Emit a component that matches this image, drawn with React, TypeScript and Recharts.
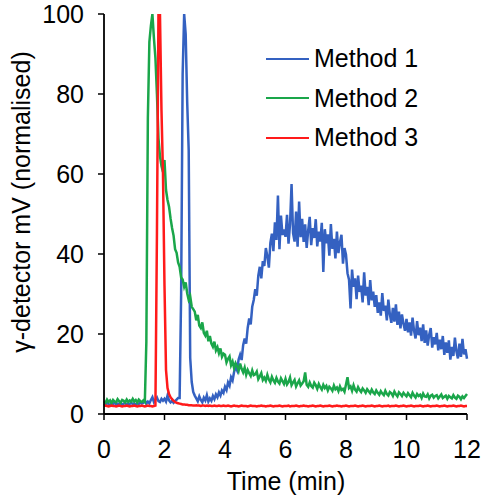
import { LineChart, Line, XAxis, YAxis, Legend, Label } from "recharts";

// detector traces, sampled every 0.05 min from 0 to 12 min (one row = one minute)
const STEP_MIN = 0.05;

const method1 = [
  2.6, 2.4, 2.8, 2.5, 2.3, 2.7, 2.5, 2.9, 2.4, 2.6, 2.5, 2.8, 2.3, 2.6, 2.7, 2.4, 2.6, 2.5, 2.8, 2.5,
  2.6, 2.4, 2.7, 2.5, 2.9, 2.6, 2.8, 3.4, 2.6, 3.1, 2.7, 3.5, 4.2, 3.0, 3.6, 4.1, 3.2, 3.0, 3.8, 3.3,
  3.8, 3.1, 4.6, 3.4, 2.9, 3.3, 2.8, 3.2, 3.6, 4.0, 4.0, 30, 85, 100, 95, 78, 66, 14, 8, 5.5,
  4.6, 3.9, 3.2, 4.4, 3.5, 2.9, 4.1, 3.4, 4.7, 3.1, 3.9, 3.3, 4.5, 3.7, 4.9, 4.2, 5.4, 4.6, 5.9, 5.3,
  6.8, 6.0, 7.9, 7.1, 9.2, 8.4, 10.5, 11.8, 10.9, 13.6, 14.8, 13.5, 17.2, 18.9, 17.6, 21.5, 23.9, 22.4, 26.8, 28.5,
  31.2, 29.6, 34.5, 36.8, 33.9, 38.2, 37.0, 41.5, 39.4, 36.6, 42.8, 45.1, 40.7, 47.9, 43.5, 54.6, 41.2, 49.6, 44.8, 46.1,
  44.3, 49.8, 42.6, 47.5, 57.5, 45.2, 43.1, 50.6, 41.8, 53.1, 44.2, 48.8, 43.0, 47.4, 41.5, 45.9, 49.3, 42.2, 46.5, 44.0,
  48.7, 41.9, 45.6, 43.1, 47.8, 35.5, 46.2, 42.7, 44.9, 39.6, 47.5, 41.3, 43.8, 38.9, 45.6, 40.2, 42.9, 44.8, 37.6, 41.5,
  39.8, 35.2, 33.6, 26.4, 36.1, 31.8, 33.9, 28.7, 34.6, 30.5, 32.1, 27.9, 35.4, 29.6, 31.8, 27.2, 33.5, 28.4, 30.6, 26.8,
  29.7, 25.3, 27.9, 24.6, 30.2, 25.8, 27.1, 23.4, 28.6, 24.9, 22.8, 26.5, 23.1, 27.4, 22.3, 25.6, 21.4, 24.9, 22.6, 20.8,
  23.8, 20.4, 22.9, 19.6, 24.1, 20.8, 18.9, 23.2, 19.7, 21.6, 18.2, 22.4, 17.8, 20.9, 17.1, 19.8, 21.5, 16.6, 19.2, 17.4,
  20.3, 15.9, 18.6, 16.2, 19.5, 14.8, 17.9, 15.3, 18.4, 13.6, 16.8, 14.5, 19.1, 15.7, 13.9, 17.6, 14.3, 18.8, 14.9, 16.2,
  13.8,
];

const method2 = [
  3.2, 2.8, 3.6, 3.0, 3.4, 2.7, 3.5, 3.1, 2.9, 3.7, 3.2, 2.8, 3.5, 3.3, 2.9, 3.6, 3.0, 3.4, 3.1, 3.8,
  3.1, 3.5, 2.9, 3.6, 3.2, 3.0, 3.4, 3.0, 18, 74, 93, 97, 100, 94, 89, 80, 69, 64.5, 62, 60.5,
  63.5, 56, 53.5, 51.8, 48.9, 46.5, 44.6, 41.2, 40.3, 37.9, 36.8, 34.1, 33.6, 31.8, 32.9, 30.2, 28.5, 29.4, 26.8, 26.2,
  25.6, 23.4, 24.8, 22.1, 21.5, 22.9, 20.3, 19.6, 20.8, 18.2, 19.5, 17.6, 16.8, 18.1, 15.9, 16.7, 15.2, 16.4, 14.3, 15.1,
  14.8, 12.9, 13.8, 14.4, 12.2, 13.1, 11.5, 12.7, 11.9, 10.8, 12.6, 11.3, 10.4, 11.6, 9.8, 11.0, 10.2, 9.5, 10.9, 9.7,
  9.9, 10.6, 8.7, 9.4, 10.2, 8.5, 9.1, 8.3, 9.8, 8.6, 7.9, 9.3, 8.4, 7.8, 9.0, 8.1, 7.6, 8.9, 8.2, 7.5,
  8.8, 7.4, 8.0, 9.1, 7.2, 7.9, 8.5, 6.9, 7.7, 8.4, 7.1, 7.6, 8.2, 10.4, 7.3, 6.8, 7.9, 7.0, 6.6, 7.8,
  7.2, 6.3, 7.5, 6.7, 6.1, 7.3, 6.5, 7.0, 5.9, 6.8, 6.4, 5.8, 7.1, 6.2, 6.6, 5.7, 6.9, 6.0, 6.3, 5.6,
  7.4, 9.2, 6.5, 6.9, 5.8, 7.2, 6.1, 5.6, 6.7, 6.0, 5.5, 6.4, 5.9, 5.3, 6.2, 5.7, 5.2, 6.1, 5.4, 5.0,
  5.9, 5.3, 4.8, 5.7, 5.1, 4.7, 5.8, 5.0, 4.6, 5.5, 5.2, 4.5, 5.6, 4.9, 4.4, 5.4, 5.0, 4.5, 5.3, 4.8,
  4.4, 5.2, 4.7, 4.2, 5.3, 4.6, 4.1, 5.0, 4.5, 4.8, 4.0, 5.1, 4.4, 4.3, 4.9, 3.9, 4.6, 4.8, 4.1, 4.5,
  4.7, 3.9, 4.4, 4.9, 4.0, 4.3, 4.6, 3.8, 4.5, 4.2, 3.9, 4.7, 4.1, 3.8, 4.6, 4.3, 3.7, 4.4, 4.0, 4.5,
  5.0,
];

const method3 = [
  2.0, 2.1, 2.0, 1.9, 2.0, 2.1, 2.0, 2.0, 1.9, 2.0, 2.1, 2.0, 1.9, 2.0, 2.0, 2.1, 2.0, 1.9, 2.0, 2.0,
  2.1, 2.0, 1.9, 2.0, 2.0, 2.1, 2.0, 1.9, 2.0, 2.1, 2.0, 2.0, 1.9, 2.0, 2.1, 45, 100, 100, 76, 60,
  32, 11, 6.5, 5.0, 4.2, 3.7, 3.3, 3.0, 2.8, 2.7, 2.6, 2.5, 2.4, 2.4, 2.3, 2.3, 2.2, 2.2, 2.2, 2.1,
  2.1, 2.2, 2.1, 2.1, 2.0, 2.1, 2.1, 2.0, 2.1, 2.0, 2.1, 2.0, 2.0, 2.1, 2.0, 2.0, 2.1, 2.0, 2.0, 2.1,
  2.0, 2.0, 2.1, 2.0, 1.9, 2.0, 2.1, 2.0, 2.0, 1.9, 2.0, 2.1, 2.0, 2.0, 2.0, 1.9, 2.0, 2.1, 2.0, 2.0,
  2.0, 1.9, 2.0, 2.0, 2.1, 2.0, 2.0, 1.9, 2.0, 2.0, 2.1, 2.0, 1.9, 2.0, 2.0, 2.0, 2.1, 2.0, 1.9, 2.0,
  2.0, 2.0, 2.1, 1.9, 2.0, 2.0, 2.0, 2.1, 2.0, 1.9, 2.0, 2.0, 2.1, 2.0, 2.0, 1.9, 2.0, 2.0, 2.1, 2.0,
  1.9, 2.0, 2.0, 2.1, 2.0, 1.9, 2.0, 2.0, 2.0, 2.1, 2.0, 1.9, 2.0, 2.0, 2.1, 2.0, 2.0, 1.9, 2.0, 2.0,
  2.1, 2.0, 1.9, 2.0, 2.0, 2.0, 2.1, 2.0, 1.9, 2.0, 2.0, 2.1, 2.0, 1.9, 2.0, 2.0, 2.0, 2.1, 2.0, 1.9,
  2.0, 2.0, 2.1, 2.0, 1.9, 2.0, 2.0, 2.0, 2.1, 1.9, 2.0, 2.0, 2.0, 2.1, 2.0, 1.9, 2.0, 2.0, 2.1, 2.0,
  1.9, 2.0, 2.0, 2.1, 2.0, 1.9, 2.0, 2.0, 2.0, 2.1, 2.0, 1.9, 2.0, 2.0, 2.1, 2.0, 1.9, 2.0, 2.0, 2.0,
  2.1, 2.0, 1.9, 2.0, 2.0, 2.1, 2.0, 1.9, 2.0, 2.0, 2.0, 2.1, 2.0, 1.9, 2.0, 2.0, 2.1, 2.0, 1.9, 2.0,
  2.0,
];

const xTicks = [0, 2, 4, 6, 8, 10, 12];
const yTicks = [0, 20, 40, 60, 80, 100];

const seriesNames = ["Method 1", "Method 2", "Method 3"];
const seriesColors = ["#3461c1", "#1aa64a", "#ff1a1a"];

const FONT = '"Liberation Sans", Arial, sans-serif';
const FONT_SIZE = 25;

const rows = method1.map((v, i) => ({
  t: +(i * STEP_MIN).toFixed(2),
  m1: v,
  m2: method2[i],
  m3: method3[i],
}));

function LegendBox() {
  return (
    <div style={{ fontFamily: FONT, fontSize: FONT_SIZE, color: "#000" }}>
      {seriesNames.map((name, i) => (
        <div key={name} style={{ display: "flex", alignItems: "center", height: 39.5 }}>
          <svg width={49} height={10} style={{ marginRight: 3 }}>
            <line x1={4} y1={5} x2={47} y2={5} stroke={seriesColors[i]} strokeWidth={2} />
          </svg>
          <span style={{ lineHeight: 1 }}>{name}</span>
        </div>
      ))}
    </div>
  );
}

export default function App() {
  const tickStyle = { fill: "#000", fontSize: FONT_SIZE, fontFamily: FONT };
  return (
    <div style={{ position: "absolute", left: 0, top: 0, width: 485, height: 500, background: "#fff" }}>
      <LineChart
        width={485}
        height={500}
        data={rows}
        margin={{ top: 14, right: 18, bottom: 0, left: 0 }}
      >
        <XAxis
          dataKey="t"
          type="number"
          domain={[0, 12]}
          ticks={xTicks}
          height={86}
          tickSize={6}
          tickMargin={20}
          tick={tickStyle}
          axisLine={{ stroke: "#000", strokeWidth: 1.8 }}
          tickLine={{ stroke: "#000", strokeWidth: 1.5 }}
        >
          <Label
            content={() => (
              <text x={286} y={490} textAnchor="middle" fill="#000" fontSize={FONT_SIZE} fontFamily={FONT}>
                Time (min)
              </text>
            )}
          />
        </XAxis>
        <YAxis
          type="number"
          domain={[0, 100]}
          ticks={yTicks}
          allowDataOverflow
          width={104}
          tickSize={6}
          tickMargin={14}
          tick={tickStyle}
          axisLine={{ stroke: "#000", strokeWidth: 1.8 }}
          tickLine={{ stroke: "#000", strokeWidth: 1.5 }}
        >
          <Label
            content={() => (
              <text
                x={21}
                y={202}
                transform="rotate(-90, 21, 202)"
                textAnchor="middle"
                dominantBaseline="central"
                fill="#000"
                fontSize={FONT_SIZE}
                fontFamily={FONT}
              >
                γ-detector mV (normalised)
              </text>
            )}
          />
        </YAxis>
        <Legend
          layout="vertical"
          align="center"
          verticalAlign="middle"
          content={() => <LegendBox />}
          wrapperStyle={{ left: 262, top: 39, width: 210, height: 120 }}
        />
        <Line dataKey="m1" name={seriesNames[0]} stroke={seriesColors[0]} strokeWidth={2.5} dot={false} isAnimationActive={false} />
        <Line dataKey="m2" name={seriesNames[1]} stroke={seriesColors[1]} strokeWidth={2.5} dot={false} isAnimationActive={false} />
        <Line dataKey="m3" name={seriesNames[2]} stroke={seriesColors[2]} strokeWidth={2.5} dot={false} isAnimationActive={false} />
      </LineChart>
    </div>
  );
}
